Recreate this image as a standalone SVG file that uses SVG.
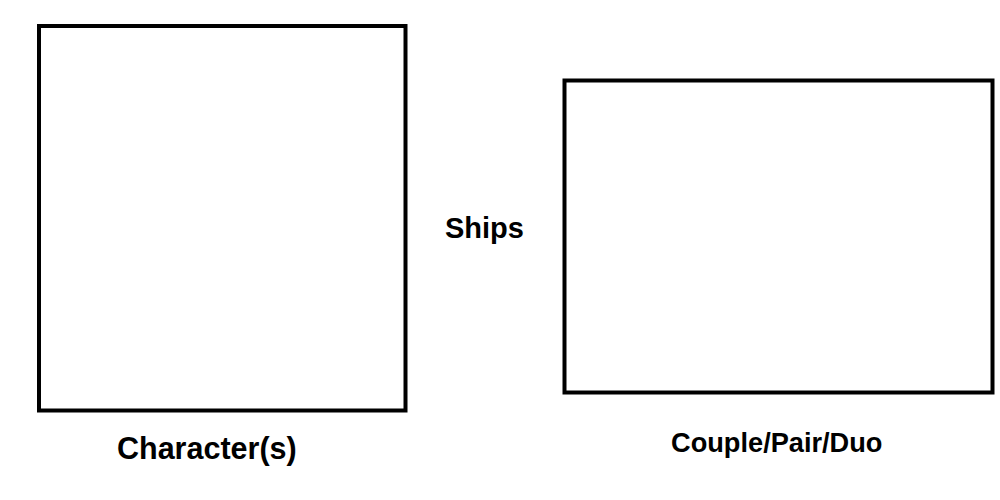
<svg xmlns="http://www.w3.org/2000/svg" width="1000" height="500" viewBox="0 0 1000 500">
<style>
.box{fill:#ffffff;stroke:#000000;stroke-width:4}
.lbl{font-family:"Liberation Sans",Arial,sans-serif;font-weight:bold;fill:#000000}
</style>
<rect x="0" y="0" width="1000" height="500" fill="#ffffff"/>
<g id="characters">
<rect class="box" x="39" y="26" width="366.5" height="384.5"/>
<text class="lbl" x="117" y="459" font-size="30.5">Character(s)</text>
</g>
<g id="ships">
<text class="lbl" x="445" y="237.5" font-size="29">Ships</text>
</g>
<g id="couple">
<rect class="box" x="564.5" y="80.5" width="428" height="312"/>
<text class="lbl" x="671" y="451.5" font-size="27.2">Couple/Pair/Duo</text>
</g>
<g id="connectors"/>
</svg>
